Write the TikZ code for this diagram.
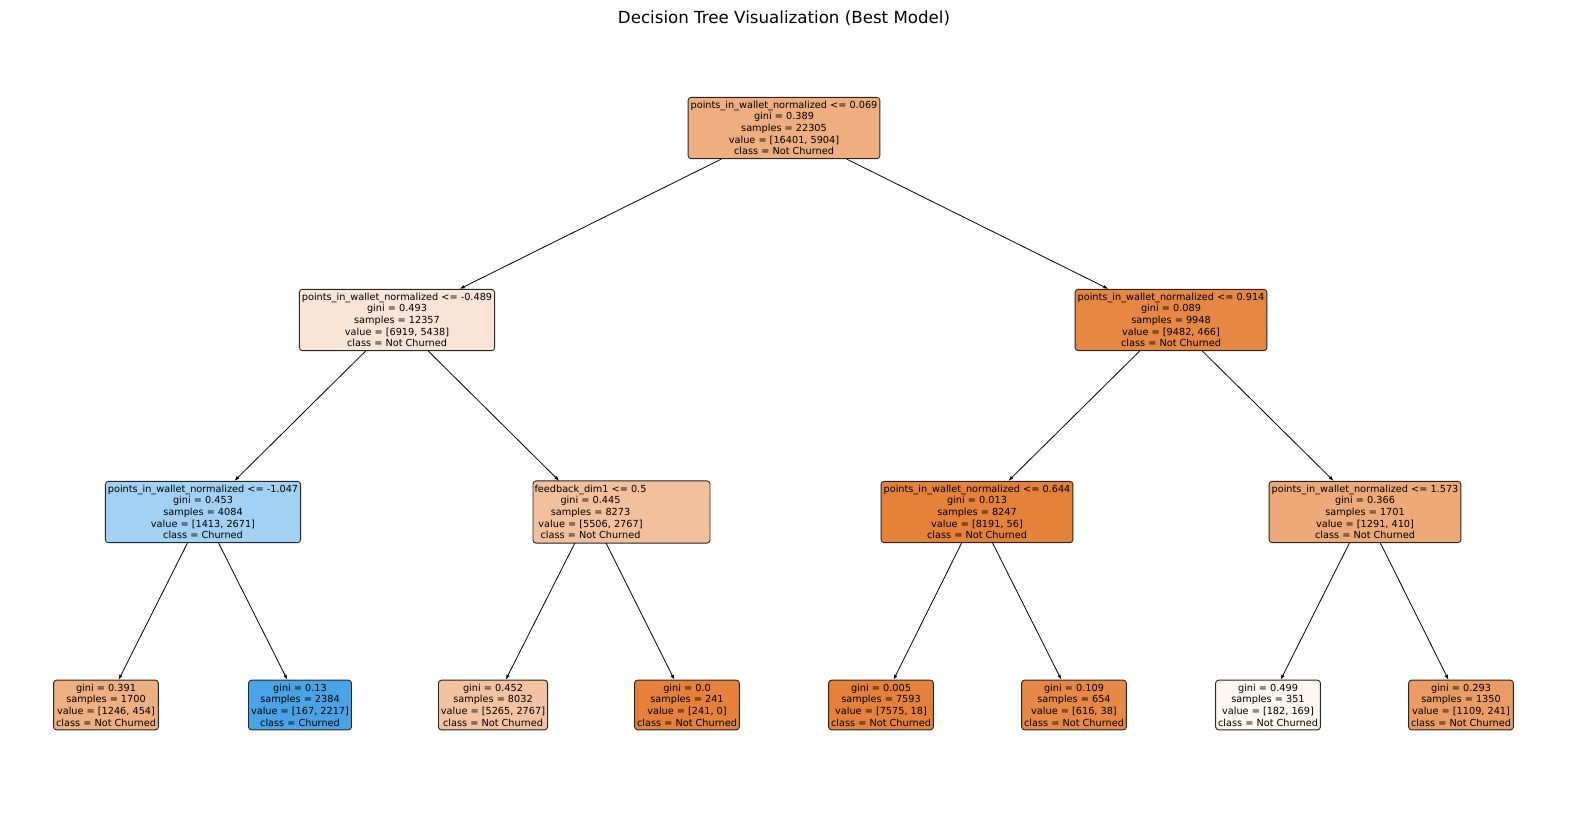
\documentclass[tikz,border=0pt]{standalone}
\usepackage{fontspec}
\setmainfont{DejaVu Sans}
\usetikzlibrary{arrows.meta}
\definecolor{c0}{RGB}{238,174,128}
\definecolor{c1}{RGB}{249,228,213}
\definecolor{c2}{RGB}{230,135,67}
\definecolor{c3}{RGB}{162,209,243}
\definecolor{c4}{RGB}{242,192,157}
\definecolor{c5}{RGB}{229,130,58}
\definecolor{c6}{RGB}{237,169,120}
\definecolor{c7}{RGB}{238,175,129}
\definecolor{c8}{RGB}{72,164,231}
\definecolor{c9}{RGB}{243,195,161}
\definecolor{c10}{RGB}{229,129,57}
\definecolor{c11}{RGB}{229,129,57}
\definecolor{c12}{RGB}{231,137,69}
\definecolor{c13}{RGB}{253,246,241}
\definecolor{c14}{RGB}{235,156,100}
\begin{document}
\begin{tikzpicture}[x=1pt,y=-1pt,
  boxst/.style={draw=black!85, line width=0.9pt, rounded corners=3pt},
  tnode/.style={boxst, align=center,
    inner xsep=2.5pt, inner ysep=3.6pt,
    font=\fontsize{9.72pt}{11.66pt}\selectfont},
  arr/.style={-{Latex[length=5pt,width=3.6pt]}, line width=0.8pt, black}]
\useasboundingbox (0,0) rectangle (1570,812);
\node[font=\fontsize{16.67pt}{20pt}\selectfont] (title) at (784,18) {Decision Tree Visualization (Best Model)};

\node[tnode, fill=c0] (r) at (784,128) {points\_in\_wallet\_normalized <= 0.069\\gini = 0.389\\samples = 22305\\value = [16401, 5904]\\class = Not Churned};
\node[tnode, fill=c1] (a) at (397,320) {points\_in\_wallet\_normalized <= -0.489\\gini = 0.493\\samples = 12357\\value = [6919, 5438]\\class = Not Churned};
\node[tnode, fill=c2] (b) at (1171,320) {points\_in\_wallet\_normalized <= 0.914\\gini = 0.089\\samples = 9948\\value = [9482, 466]\\class = Not Churned};
\node[tnode, fill=c3] (aa) at (203,512) {points\_in\_wallet\_normalized <= -1.047\\gini = 0.453\\samples = 4084\\value = [1413, 2671]\\class = Churned};
\coordinate (abL) at (533,0);
\coordinate (abR) at (710,0);
\draw[boxst, fill=c4] (abL |- aa.north) rectangle (abR |- aa.south);
\node[tnode, draw=none, fill=none] (ab) at (590.5,512) {feedback\_dim1 <= 0.5\\gini = 0.445\\samples = 8273\\value = [5506, 2767]\\class = Not Churned};
\node[tnode, fill=c5] (ba) at (977,512) {points\_in\_wallet\_normalized <= 0.644\\gini = 0.013\\samples = 8247\\value = [8191, 56]\\class = Not Churned};
\node[tnode, fill=c6] (bb) at (1365,512) {points\_in\_wallet\_normalized <= 1.573\\gini = 0.366\\samples = 1701\\value = [1291, 410]\\class = Not Churned};

\node[tnode, fill=c7] (l1) at (106,705) {gini = 0.391\\samples = 1700\\value = [1246, 454]\\class = Not Churned};
\node[tnode, fill=c8] (l2) at (300,705) {gini = 0.13\\samples = 2384\\value = [167, 2217]\\class = Churned};
\node[tnode, fill=c9] (l3) at (493,705) {gini = 0.452\\samples = 8032\\value = [5265, 2767]\\class = Not Churned};
\node[tnode, fill=c10] (l4) at (687,705) {gini = 0.0\\samples = 241\\value = [241, 0]\\class = Not Churned};
\node[tnode, fill=c11] (l5) at (881,705) {gini = 0.005\\samples = 7593\\value = [7575, 18]\\class = Not Churned};
\node[tnode, fill=c12] (l6) at (1074,705) {gini = 0.109\\samples = 654\\value = [616, 38]\\class = Not Churned};
\node[tnode, fill=c13] (l7) at (1268,705) {gini = 0.499\\samples = 351\\value = [182, 169]\\class = Not Churned};
\node[tnode, fill=c14] (l8) at (1461,705) {gini = 0.293\\samples = 1350\\value = [1109, 241]\\class = Not Churned};

\draw[arr] (r) -- (a);
\draw[arr] (r) -- (b);
\draw[arr] (a) -- (aa);
\draw[arr] (a) -- (ab);
\draw[arr] (b) -- (ba);
\draw[arr] (b) -- (bb);
\draw[arr] (aa) -- (l1);
\draw[arr] (aa) -- (l2);
\draw[arr] (ab) -- (l3);
\draw[arr] (ab) -- (l4);
\draw[arr] (ba) -- (l5);
\draw[arr] (ba) -- (l6);
\draw[arr] (bb) -- (l7);
\draw[arr] (bb) -- (l8);
\end{tikzpicture}
\end{document}
